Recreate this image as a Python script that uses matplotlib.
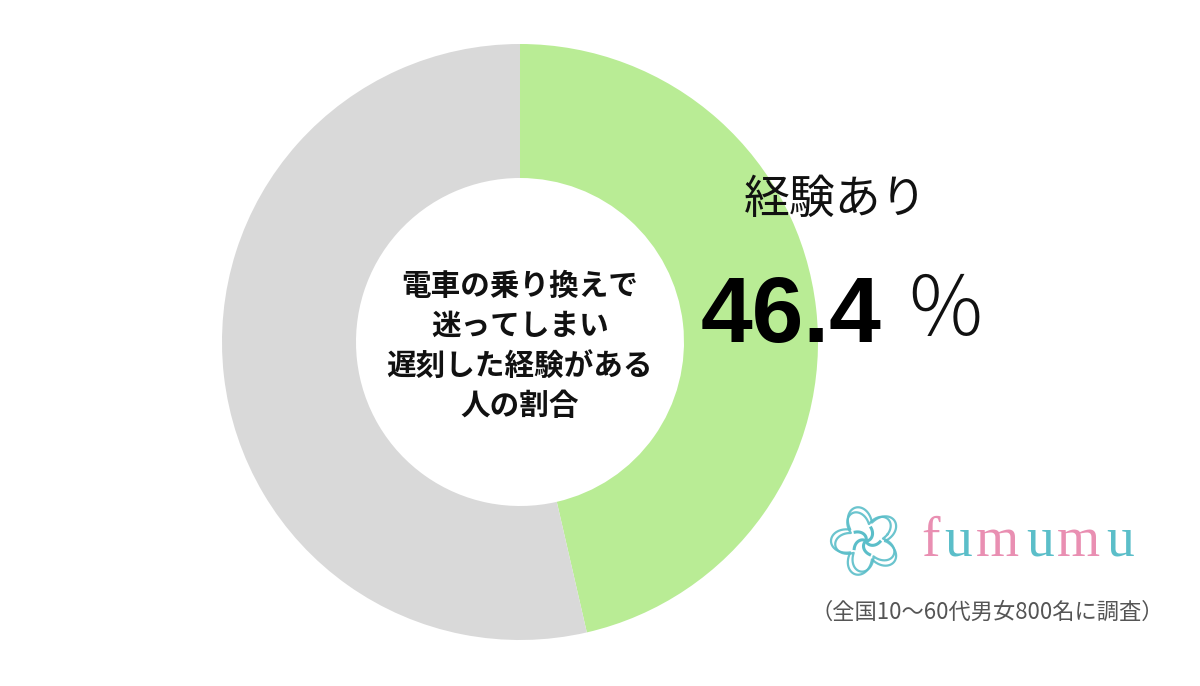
import numpy as np
import matplotlib
matplotlib.use("Agg")
import matplotlib.pyplot as plt

plt.rcParams['font.family'] = ['Noto Sans CJK JP', 'DejaVu Sans']

labels = ["経験あり", "経験なし"]
values = [46.4, 53.6]
colors = ["#b9ec95", "#d9d9d9"]
center_title = "電車の乗り換えで\n迷ってしまい\n遅刻した経験がある\n人の割合"
value_label = "46.4"
source_note = "（全国10〜60代男女800名に調査）"
brand = "fumumu"

W, H = 1200, 686
fig = plt.figure(figsize=(W / 100, H / 100), dpi=100)
ax = fig.add_axes([0, 0, 1, 1])

cx, cy = 520, H - 342
R, r_in = 298, 164
ax.pie(values, colors=colors, startangle=90, counterclock=False,
       center=(cx, cy), radius=R, frame=True,
       wedgeprops=dict(width=R - r_in, linewidth=0))
ax.set_xlim(0, W)
ax.set_ylim(0, H)
ax.set_aspect('equal')
ax.axis('off')

ax.text(cx, H - 346, center_title, ha='center', va='center', fontsize=21.3,
        fontweight='bold', linespacing=1.42, color='#111111')

ax.text(836, H - 200, labels[0], ha='center', va='center', fontsize=33,
        color='#111111')
ax.text(701, H - 342, value_label, ha='left', va='baseline', fontsize=67,
        fontweight='bold', family=['Liberation Sans', 'DejaVu Sans'], color='#000000')
ax.text(945, H - 313, "％", ha='center', va='center', fontsize=59,
        color='#111111', fontweight='light')

# brand logo
teal = "#5bbec9"
pink = "#e98fb2"
for ch, x, col in zip(brand, [921, 944, 976, 1026, 1057, 1106],
                      [pink, teal, pink, teal, pink, teal]):
    ax.text(x, H - 556, ch, ha='left', va='baseline', fontsize=40,
            family=['Liberation Serif', 'DejaVu Serif'], color=col)

# flower icon
fx, fy = 866, H - 541
t = np.linspace(0, 2 * np.pi, 600)
for k, rr in enumerate([35, 31]):
    rad = rr * (0.55 + 0.45 * np.abs(np.sin(2.5 * t + k * 0.4)))
    ax.plot(fx + rad * np.cos(t + 0.3 * k), fy + rad * np.sin(t + 0.3 * k),
            color=teal, lw=1.6, alpha=0.9)
for a in np.linspace(0, 2 * np.pi, 5, endpoint=False):
    s = np.linspace(0, 1, 40)
    ax.plot(fx + 14 * s * np.cos(a + 1.2 * s), fy + 14 * s * np.sin(a + 1.2 * s),
            color=teal, lw=2.2)

ax.text(987, H - 612, source_note, ha='center', va='center', fontsize=16,
        color='#555555')

fig.savefig("out.png", dpi=100)
